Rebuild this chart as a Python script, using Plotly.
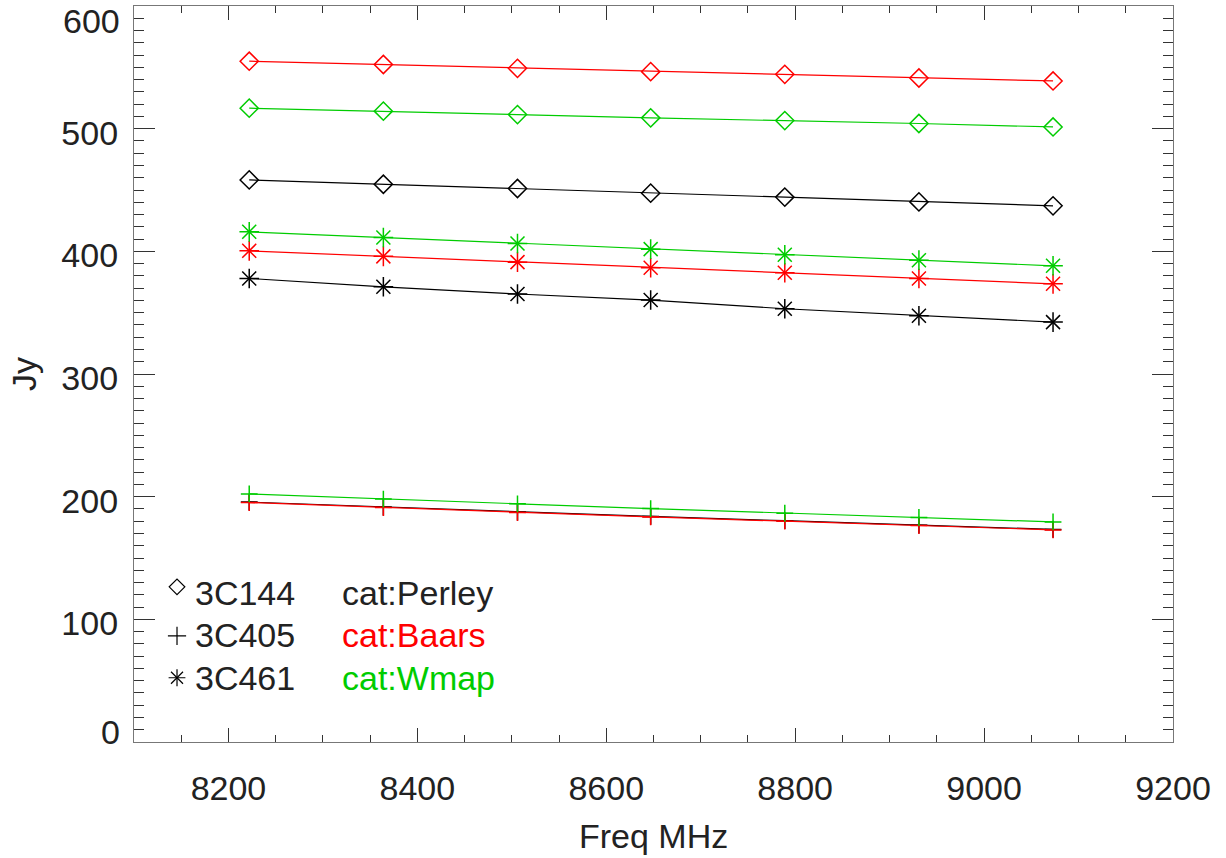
import plotly.graph_objects as go

# ---------------- data ----------------
freq = [8222, 8364, 8506, 8647, 8789, 8931, 9073]

perley_3c144 = [458.2, 454.7, 451.2, 447.4, 444.2, 440.3, 437.1]
baars_3c144 = [555.0, 552.3, 549.2, 546.5, 544.3, 541.3, 538.9]
wmap_3c144 = [516.7, 514.3, 511.5, 508.8, 506.6, 504.2, 501.4]

perley_3c405 = [195.6, 191.5, 187.4, 183.9, 180.4, 176.8, 173.3]
baars_3c405 = [195.2, 191.1, 187.0, 183.5, 180.0, 176.4, 172.9]
wmap_3c405 = [202.2, 198.0, 194.2, 190.3, 186.5, 183.0, 179.4]

perley_3c461 = [377.9, 371.1, 365.2, 360.3, 353.2, 347.5, 342.3]
baars_3c461 = [400.4, 395.9, 391.2, 386.6, 382.5, 377.9, 373.5]
wmap_3c461 = [415.9, 411.3, 406.4, 401.8, 397.2, 392.8, 388.2]

x_tick_vals = [8200, 8400, 8600, 8800, 9000, 9200]
y_tick_vals = [0, 100, 200, 300, 400, 500, 600]
sources = ["3C144", "3C405", "3C461"]
catalogs = ["cat:Perley", "cat:Baars", "cat:Wmap"]

# ---------------- styles ----------------
BLACK = "#000000"
RED = "#ff0000"
GREEN = "#00cc00"
TEXT = "#222222"
FONT = "Liberation Sans"
FS = 34

fig = go.Figure()


def add_series(y, color, kind):
    fig.add_trace(go.Scatter(x=freq, y=y, mode="lines",
                             line=dict(color=color, width=1.2),
                             showlegend=False, hoverinfo="skip"))
    if kind == "diamond":
        syms, size = ["diamond-open"], 14
    elif kind == "plus":
        syms, size = ["cross-thin-open"], 12
    else:  # asterisk made of + and x
        syms, size = ["cross-thin-open", "x-thin-open"], 14
    for sym in syms:
        fig.add_trace(go.Scatter(x=freq, y=y, mode="markers",
                                 marker=dict(symbol=sym, size=size, color=color,
                                             line=dict(color=color, width=1.5)),
                                 showlegend=False))


# black (Perley) first, then red (Baars), then green (Wmap)
add_series(perley_3c144, BLACK, "diamond")
add_series(perley_3c461, BLACK, "star")
add_series(perley_3c405, BLACK, "plus")
add_series(baars_3c144, RED, "diamond")
add_series(baars_3c461, RED, "star")
add_series(baars_3c405, RED, "plus")
add_series(wmap_3c144, GREEN, "diamond")
add_series(wmap_3c461, GREEN, "star")
add_series(wmap_3c405, GREEN, "plus")

# ---------------- legend keys on an overlay axis (0..1 fractions) ----------------
key_x = 0.0414
key_y = [0.2108, 0.1443, 0.0873]
key_sym = [["diamond-open"], ["cross-thin-open"], ["cross-thin-open", "x-thin-open"]]
key_size = [12, 13, 12]
for ky, syms, ks in zip(key_y, key_sym, key_size):
    for s in syms:
        fig.add_trace(go.Scatter(x=[key_x], y=[ky], xaxis="x2", yaxis="y2",
                                 mode="markers",
                                 marker=dict(symbol=s, size=ks, color=BLACK,
                                             line=dict(color=BLACK, width=1.2)),
                                 showlegend=False, hoverinfo="skip"))

text_y = [0.2027, 0.1457, 0.0873]
cat_colors = [TEXT, RED, GREEN]
annotations = []
for src, cat, ty, cc in zip(sources, catalogs, text_y, cat_colors):
    annotations.append(dict(xref="paper", yref="paper", x=0.0568, y=ty,
                            text=src, showarrow=False, xanchor="left",
                            yanchor="middle", font=dict(size=FS, color=TEXT, family=FONT)))
    annotations.append(dict(xref="paper", yref="paper", x=0.1980, y=ty,
                            text=cat, showarrow=False, xanchor="left",
                            yanchor="middle", font=dict(size=FS, color=cc, family=FONT)))

# edge y labels (0 and 600) are nudged inward in the reference
annotations.append(dict(xref="paper", yref="y", x=0, y=600, text="600",
                        showarrow=False, xanchor="right", yanchor="middle",
                        xshift=-12, yshift=-15,
                        font=dict(size=FS, color=TEXT, family=FONT)))
annotations.append(dict(xref="paper", yref="y", x=0, y=0, text="0",
                        showarrow=False, xanchor="right", yanchor="middle",
                        xshift=-12, yshift=10,
                        font=dict(size=FS, color=TEXT, family=FONT)))
# axis titles
annotations.append(dict(xref="paper", yref="paper", x=0.5, y=0, text="Freq MHz",
                        showarrow=False, xanchor="center", yanchor="middle",
                        yshift=-94, font=dict(size=FS, color=TEXT, family=FONT)))
annotations.append(dict(xref="paper", yref="paper", x=0, y=0.5, text="Jy",
                        showarrow=False, xanchor="center", yanchor="middle",
                        textangle=-90, xshift=-110,
                        font=dict(size=FS, color=TEXT, family=FONT)))

axis_common = dict(showline=True, linecolor="#777777", linewidth=1.2,
                   mirror="allticks", showgrid=False, zeroline=False,
                   automargin=False,
                   ticks="inside", tickcolor="#333333", tickwidth=1.2,
                   tickfont=dict(size=FS, color=TEXT, family=FONT))

fig.update_layout(
    width=1226, height=858,
    margin=dict(l=134, r=53, t=6, b=116),
    paper_bgcolor="white", plot_bgcolor="white",
    font=dict(family=FONT, color=TEXT),
    showlegend=False,
    xaxis=dict(range=[8100, 9200], tickmode="array", tickvals=x_tick_vals,
               ticktext=[str(v) for v in x_tick_vals], ticklen=14,
               ticklabelstandoff=16,
               minor=dict(dtick=50, ticks="inside", ticklen=7,
                          tickcolor="#333333", tickwidth=1.2, showgrid=False),
               **axis_common),
    yaxis=dict(range=[0, 600], tickmode="array", tickvals=y_tick_vals,
               ticktext=["" if v in (0, 600) else str(v) for v in y_tick_vals],
               ticklen=21, ticklabelstandoff=8, ticklabelshift=4,
               minor=dict(dtick=10, ticks="inside", ticklen=10,
                          tickcolor="#333333", tickwidth=1.2, showgrid=False),
               **axis_common),
    xaxis2=dict(overlaying="x", range=[0, 1], visible=False, domain=[0, 1]),
    yaxis2=dict(overlaying="y", range=[0, 1], visible=False),
    annotations=annotations,
)

fig.write_html("out.html", config={"displayModeBar": False},
               post_script="document.body.style.margin='0';")
